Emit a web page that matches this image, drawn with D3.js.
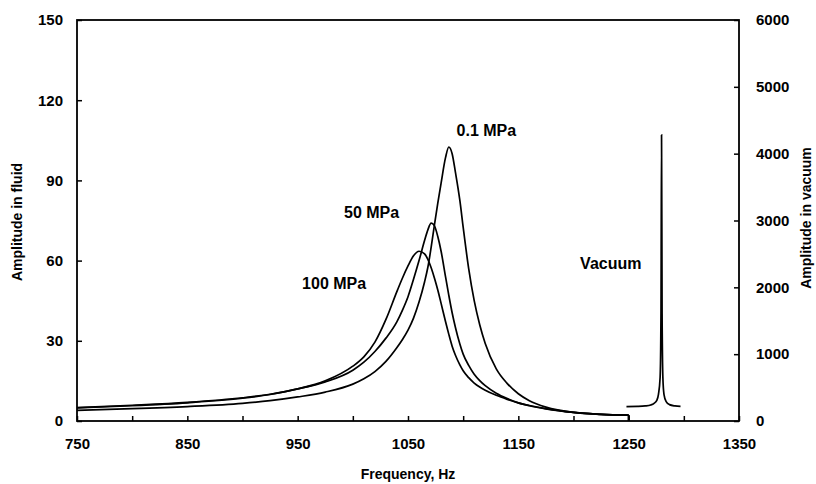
<!DOCTYPE html>
<html>
<head>
<meta charset="utf-8">
<script src="https://cdn.jsdelivr.net/npm/d3@7"></script>
<style>
    body { margin: 0; background: #fff; }
    svg { font-family: "Liberation Sans", Arial, sans-serif; font-weight: bold; }
    .axis text { font-size: 15px; fill: #000; }
    .axis line { stroke: #000; stroke-width: 1.5; }
    .axis path { display: none; }
    .curve { fill: none; stroke: #000; stroke-width: 1.7; }
    .note { font-size: 16px; fill: #000; }
    .title { font-size: 14px; fill: #000; }
</style>
</head>
<body>
<div class="graph"></div>
<script>
// frequencies (Hz) shared by the three fluid curves
var freqFluid = [750, 800, 850, 900, 925, 950, 975, 1000, 1010, 1020, 1030, 1040, 1045, 1050,
    1055, 1060, 1065, 1068, 1071, 1074, 1077, 1080, 1084, 1087, 1090, 1093, 1097, 1100,
    1105, 1110, 1115, 1120, 1130, 1140, 1150, 1160, 1175, 1200, 1225, 1250];

var amp01 = [4.0, 4.6, 5.4, 6.6, 7.6, 9.0, 10.8, 13.8, 15.8, 18.5, 22.3, 27.5, 30.5, 34.0,
    38.5, 44.5, 52.0, 57.5, 65.0, 73.5, 81.5, 89.0, 98.5, 102.5, 100.0, 93.0, 82.5, 72.5,
    57.0, 45.0, 36.0, 29.0, 19.5, 14.0, 10.2, 7.6, 5.2, 3.2, 2.5, 2.2];

var amp50 = [4.9, 5.7, 6.8, 8.5, 9.9, 12.0, 14.6, 19.0, 22.0, 26.0, 31.0, 37.2, 41.5, 46.5,
    53.0, 60.0, 67.5, 71.5, 74.0, 73.0, 69.0, 63.5, 54.0, 47.0, 40.5, 35.0, 28.8, 25.0,
    20.8, 17.5, 15.1, 13.2, 10.4, 8.4, 6.8, 5.7, 4.5, 3.2, 2.5, 2.2];

var amp100 = [5.0, 5.9, 7.0, 8.7, 10.0, 12.0, 15.0, 20.5, 24.0, 29.5, 38.0, 48.5, 53.5, 58.0,
    61.8, 63.5, 62.5, 60.5, 57.3, 53.4, 49.0, 44.0, 37.2, 32.4, 28.0, 24.6, 21.0, 18.8,
    16.2, 14.2, 12.7, 11.5, 9.6, 8.1, 6.8, 5.8, 4.6, 3.2, 2.5, 2.2];

// vacuum curve, read on the right axis
var freqVac = [1248, 1258, 1265, 1270, 1273, 1275.5, 1277, 1278.5, 1279.3, 1279.8, 1280.3,
    1281, 1282, 1284, 1287, 1292, 1297];
var ampVac = [215, 218, 225, 240, 265, 310, 400, 650, 1600, 4280, 1600, 650, 400, 290, 245, 225, 218];

var xTicks = [750, 800, 850, 900, 950, 1000, 1050, 1100, 1150, 1200, 1250, 1300, 1350];
var leftTicks = [0, 30, 60, 90, 120, 150];
var rightTicks = [0, 1000, 2000, 3000, 4000, 5000, 6000];

var curveNames = ["0.1 MPa", "50 MPa", "100 MPa"];
var curveValues = [amp01, amp50, amp100];

(function (d3) {
    var width = 816,
        height = 484,
        plotLeft = 77, plotRight = 739, plotTop = 20, plotBottom = 421;

    var x = d3.scaleLinear().domain([750, 1350]).range([plotLeft, plotRight]);
    var yL = d3.scaleLinear().domain([0, 150]).range([plotBottom, plotTop]);
    var yR = d3.scaleLinear().domain([0, 6000]).range([plotBottom, plotTop]);

    var svg = d3.select('.graph').append('svg')
        .attr('width', width)
        .attr('height', height);

    svg.append('g')
        .attr('class', 'axis')
        .attr('transform', 'translate(0,' + plotBottom + ')')
        .call(d3.axisBottom(x).tickValues(xTicks).tickSize(-5).tickPadding(17)
            .tickFormat(function (d) { return d % 100 === 50 ? d : ''; }));

    svg.append('g')
        .attr('class', 'axis')
        .attr('transform', 'translate(' + plotLeft + ',0)')
        .call(d3.axisLeft(yL).tickValues(leftTicks).tickSize(-5).tickPadding(14));

    svg.append('g')
        .attr('class', 'axis')
        .attr('transform', 'translate(' + plotRight + ',0)')
        .call(d3.axisRight(yR).tickValues(rightTicks).tickSize(-5).tickPadding(17)
            .tickFormat(d3.format('d')));

    // frame
    svg.append('rect')
        .attr('x', plotLeft).attr('y', plotTop)
        .attr('width', plotRight - plotLeft).attr('height', plotBottom - plotTop)
        .attr('fill', 'none').attr('stroke', '#000').attr('stroke-width', 1.8);

    var fluidLine = d3.line()
        .x(function (d) { return x(d[0]); })
        .y(function (d) { return yL(d[1]); })
        .curve(d3.curveMonotoneX);

    curveValues.forEach(function (vals) {
        var pts = freqFluid.map(function (f, i) { return [f, vals[i]]; });
        svg.append('path').attr('class', 'curve').attr('d', fluidLine(pts));
        // the traces stop at the last frequency and drop to the axis
        var last = pts[pts.length - 1];
        svg.append('path').attr('class', 'curve')
            .attr('d', d3.line()([[x(last[0]), yL(last[1])], [x(last[0]), yL(0)]]));
    });

    var vacLine = d3.line()
        .x(function (d, i) { return x(freqVac[i]); })
        .y(function (d) { return yR(d); })
        .curve(d3.curveMonotoneX);

    svg.append('path').attr('class', 'curve').attr('d', vacLine(ampVac));

    // curve labels, placed in data units
    var notes = [
        { text: curveNames[0], f: 1094, a: 106.6 },
        { text: curveNames[1], f: 992, a: 75.9 },
        { text: curveNames[2], f: 954, a: 49.4 },
        { text: 'Vacuum', f: 1206, a: 57 }
    ];

    svg.selectAll('.note').data(notes).enter().append('text')
        .attr('class', 'note')
        .attr('x', function (d) { return x(d.f); })
        .attr('y', function (d) { return yL(d.a); })
        .text(function (d) { return d.text; });

    svg.append('text').attr('class', 'title')
        .attr('x', 408).attr('y', 479)
        .attr('text-anchor', 'middle')
        .text('Frequency, Hz');

    svg.append('text').attr('class', 'title')
        .attr('transform', 'translate(22,222) rotate(-90)')
        .attr('text-anchor', 'middle')
        .text('Amplitude in fluid');

    svg.append('text').attr('class', 'title')
        .attr('transform', 'translate(811,218) rotate(-90)')
        .attr('text-anchor', 'middle')
        .text('Amplitude in vacuum');
})(d3);
</script>
</body>
</html>
